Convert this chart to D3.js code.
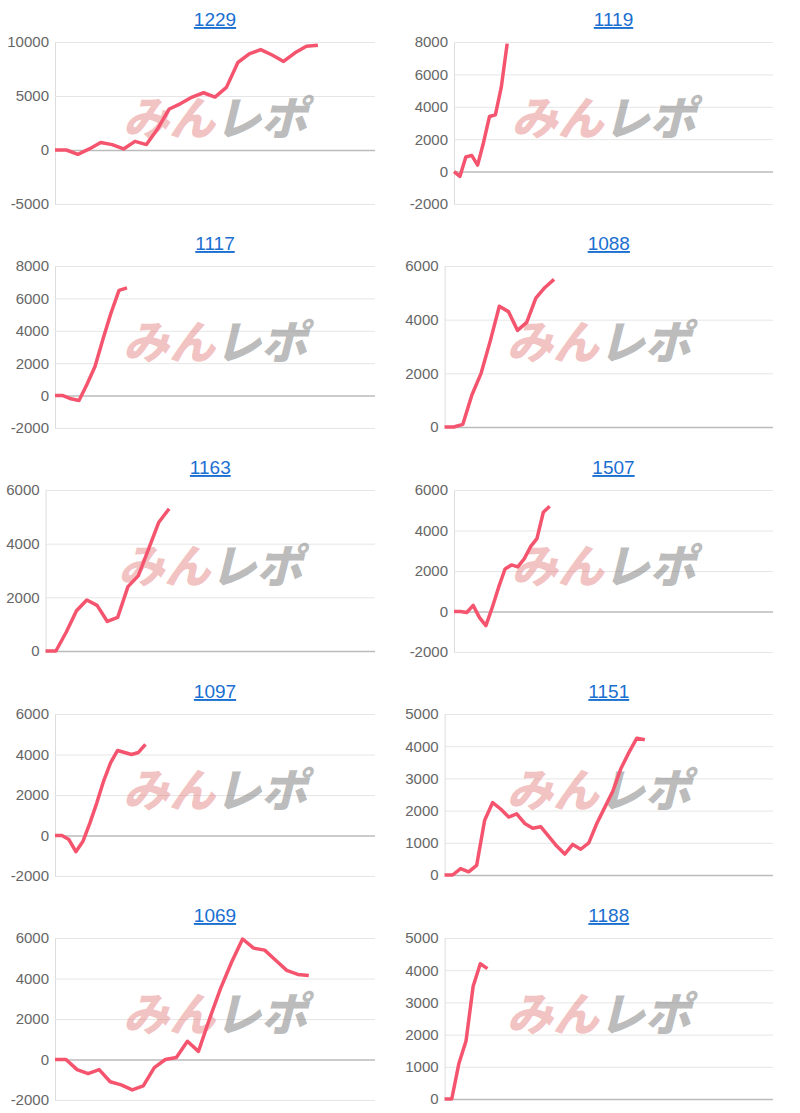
<!DOCTYPE html>
<html><head><meta charset="utf-8">
<script src="https://cdn.jsdelivr.net/npm/d3@7"></script>
<style>body{margin:0;background:#fff;font-family:Arial,"Liberation Sans",sans-serif}</style>
</head><body><svg id="c" width="800" height="1113"></svg>
<script>
const titles = ["1229","1119","1117","1088","1163","1507","1097","1151","1069","1188"];
const yTicks = [
  [-5000,0,5000,10000],[-2000,0,2000,4000,6000,8000],[-2000,0,2000,4000,6000,8000],[0,2000,4000,6000],
  [0,2000,4000,6000],[-2000,0,2000,4000,6000],[-2000,0,2000,4000,6000],[0,1000,2000,3000,4000,5000],
  [-2000,0,2000,4000,6000],[0,1000,2000,3000,4000,5000]];
const slots = [28,54,40,36,32,50,46,41,29,46];
const s1229 = [0,0,-400,100,700,500,100,800,500,2000,3800,4300,4900,5300,4900,5800,8100,8900,9300,8800,8200,9000,9600,9700];
const s1119 = [0,-300,900,1000,400,1800,3400,3500,5200,7900];
const s1117 = [0,0,-200,-300,700,1800,3500,5100,6500,6650];
const s1088 = [0,0,100,1200,2000,3200,4500,4300,3600,3900,4800,5200,5500];
const s1163 = [0,0,700,1500,1900,1700,1100,1250,2400,2800,3800,4800,5300];
const s1507 = [0,0,-50,300,-300,-700,200,1200,2100,2300,2200,2600,3200,3600,4900,5200];
const s1097 = [0,0,-200,-800,-300,600,1600,2700,3600,4200,4100,4000,4100,4500];
const s1151 = [0,0,200,100,300,1700,2250,2050,1800,1900,1600,1450,1500,1200,900,650,950,800,1000,1600,2100,2600,3300,3800,4250,4200];
const s1069 = [0,0,-500,-700,-500,-1100,-1250,-1500,-1300,-400,0,100,900,400,2000,3500,4800,5950,5500,5400,4900,4400,4200,4150];
const s1188 = [0,0,1100,1800,3500,4200,4050];
const series = [s1229,s1119,s1117,s1088,s1163,s1507,s1097,s1151,s1069,s1188];

const svg = d3.select("#c");
titles.forEach((t,i)=>{
  const col = i%2, row = Math.floor(i/2);
  const ox = col*395, oy = row*224;
  const ticks = yTicks[i];
  const fmt = d=>String(d);
  const maxLen = d3.max(ticks, d=>fmt(d).length);
  const left = ox + (col?12:8) + maxLen*9.4;
  const right = ox + (col?378:375);
  const top = oy+42, bottom = oy+ (ticks[0]<0 ? 204 : 203);
  const g = svg.append("g");
  const x = d3.scaleLinear().domain([0,slots[i]]).range([left,right]);
  const y = d3.scaleLinear().domain([ticks[0],ticks[ticks.length-1]]).range([bottom,top]);
  g.append("text").attr("x",(left+right)/2).attr("y",oy+26).attr("text-anchor","middle")
    .attr("font-size",19).attr("fill","#1a6fd1").attr("text-decoration","underline").text(t);
  const ya = d3.axisLeft(y).tickValues(ticks).tickSize(-(right-left)).tickFormat(fmt);
  const ag = g.append("g").attr("transform",`translate(${left},0)`).call(ya);
  ag.select(".domain").attr("stroke","#ddd");
  ag.selectAll(".tick line").attr("stroke",d=>d===0?"#bbb":"#e6e6e6").attr("stroke-width",d=>d===0?1.5:1);
  ag.selectAll(".tick text").attr("fill","#666").attr("font-size",15).attr("x",-6);
  const wx = (left+right)/2 + (col? -10: 0), wy = oy+135;
  const wm = g.append("text").attr("x",wx).attr("y",wy).attr("text-anchor","middle")
    .attr("font-size",46).attr("font-weight","900").attr("font-style","italic")
    .attr("font-family","'Noto Sans CJK JP',sans-serif");
  wm.append("tspan").attr("fill","rgba(226,120,120,0.45)").text("みん");
  wm.append("tspan").attr("fill","rgba(130,130,130,0.55)").text("レポ");
  const line = d3.line().x((d,j)=>x(j)).y(d=>y(d));
  g.append("path").datum(series[i]).attr("d",line).attr("fill","none")
    .attr("stroke","#f5546e").attr("stroke-width",3.5).attr("stroke-linejoin","round");
});
</script></body></html>
